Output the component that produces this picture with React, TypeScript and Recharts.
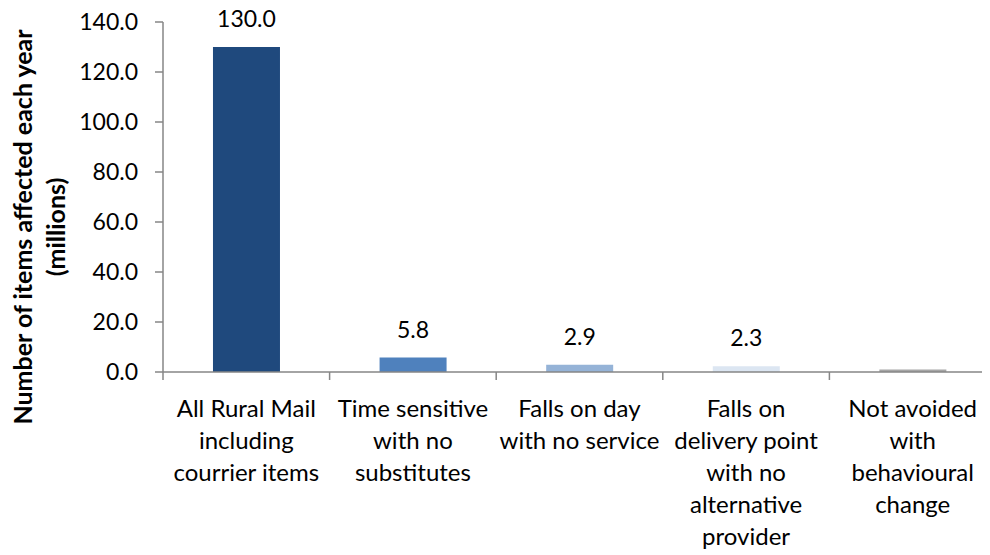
import { BarChart, Bar, XAxis, YAxis, Cell, LabelList } from 'recharts';

const categories = [
  'All Rural Mail\nincluding\ncourrier items',
  'Time sensitive\nwith no\nsubstitutes',
  'Falls on day\nwith no service',
  'Falls on\ndelivery point\nwith no\nalternative\nprovider',
  'Not avoided\nwith\nbehavioural\nchange',
];
const itemsAffected = [130.0, 5.8, 2.9, 2.3, 1.0];
const showValue = [true, true, true, true, false];
const barColors = ['#1F497D', '#4F81BD', '#95B3D7', '#DCE6F2', '#A6A6A6'];
const yTicks = [0, 20, 40, 60, 80, 100, 120, 140];
const boundaryTicks = [0, 1, 2, 3, 4, 5];

const data = categories.map((name, i) => ({
  name,
  value: itemsAffected[i],
  pos: i + 0.5,
}));

const FONT = 'Lato, "Open Sans", sans-serif';
const AXIS = '#868686';

function CategoryTick({ x, y, payload }: any) {
  const lines = String(payload.value).split('\n');
  return (
    <text x={x} y={y + 36} textAnchor="middle" fontFamily={FONT} fontSize={24} fill="#000">
      {lines.map((l, i) => (
        <tspan key={i} x={x} dy={i === 0 ? 0 : 32}>{l}</tspan>
      ))}
    </text>
  );
}

function ValueLabel({ x, y, width, value, index }: any) {
  if (!showValue[index]) return null;
  return (
    <text x={x + width / 2} y={y - 20} textAnchor="middle" fontFamily={FONT} fontSize={23} fill="#000">
      {Number(value).toFixed(1)}
    </text>
  );
}

function YTitle({ viewBox }: any) {
  const cy = viewBox.y + viewBox.height / 2 + 30;
  return (
    <text transform={`translate(0, ${cy}) rotate(-90)`} textAnchor="middle"
      fontFamily={FONT} fontSize={25} fontWeight="bold" fill="#000">
      <tspan x={0} y={24}>Number of items affected each year</tspan>
      <tspan x={0} y={57}>(millions)</tspan>
    </text>
  );
}

export default function App() {
  return (
    <div style={{ width: 982, height: 547, overflow: 'hidden', background: '#fff' }}>
      <BarChart
        width={1000}
        height={547}
        data={data}
        margin={{ top: 14, right: 12, left: 0, bottom: 12 }}
        barCategoryGap="30%"
      >
        <XAxis
          xAxisId={0}
          type="number"
          dataKey="pos"
          domain={[0, 5]}
          ticks={boundaryTicks}
          interval={0}
          tick={() => <g />}
          height={1}
          tickSize={8}
          tickMargin={0}
          axisLine={{ stroke: AXIS, strokeWidth: 1.5 }}
          tickLine={{ stroke: AXIS, strokeWidth: 1.5 }}
        />
        <XAxis
          xAxisId={1}
          dataKey="name"
          height={170}
          axisLine={false}
          tickLine={false}
          tick={<CategoryTick />}
          interval={0}
        />
        <YAxis
          width={155}
          domain={[0, 140]}
          ticks={yTicks}
          tickFormatter={(v: number) => v.toFixed(1)}
          tick={{ fontSize: 23, fontFamily: FONT, fill: '#000' }}
          tickSize={8}
          tickMargin={17}
          axisLine={{ stroke: AXIS, strokeWidth: 1.5 }}
          tickLine={{ stroke: AXIS, strokeWidth: 1.5 }}
          label={{ content: <YTitle /> }}
        />
        <Bar dataKey="value" xAxisId={1} isAnimationActive={false}>
          {data.map((d, i) => (
            <Cell key={d.name} fill={barColors[i]} />
          ))}
          <LabelList dataKey="value" content={<ValueLabel />} />
        </Bar>
      </BarChart>
    </div>
  );
}
